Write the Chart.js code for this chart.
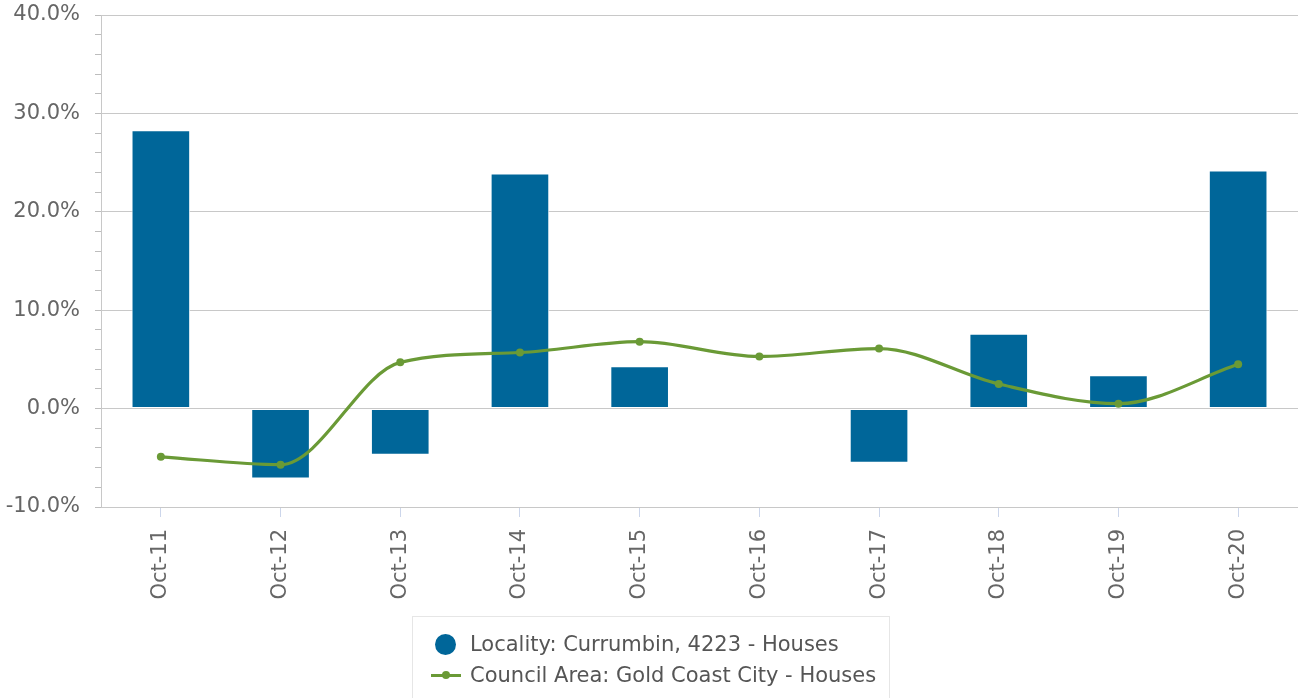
<!DOCTYPE html>
<html>
<head>
<meta charset="utf-8">
<script src="https://cdn.jsdelivr.net/npm/chart.js@4"></script>
<style>
  html, body { margin: 0; padding: 0; background: #fff; overflow: hidden; }
  #wrap { position: relative; width: 1298px; height: 698px; }
  #legend { position: absolute; left: 412px; top: 616px; width: 476px; height: 100px;
    border: 1px solid #e6e6e6; font-family: "DejaVu Sans", sans-serif; font-size: 21px; color: #555; }
  .item { position: absolute; left: 57px; white-space: nowrap; line-height: 24px; }
  .mk { position: absolute; }
</style>
</head>
<body>
<div id="wrap">
  <canvas id="c" width="1298" height="698"></canvas>
  <div id="legend"></div>
</div>
<script>
const categories = ["Oct-11","Oct-12","Oct-13","Oct-14","Oct-15","Oct-16","Oct-17","Oct-18","Oct-19","Oct-20"];
const localityValues = [28.3, -7.1, -4.7, 23.9, 4.3, 0.0, -5.5, 7.6, 3.4, 24.2];
const councilValues = [-4.9, -5.7, 4.7, 5.7, 6.8, 5.3, 6.1, 2.5, 0.5, 4.5];
const localityLabel = "Locality: Currumbin, 4223 - Houses";
const councilLabel = "Council Area: Gold Coast City - Houses";
const yMin = -10, yMax = 40, yMajor = 10, yMinor = 2;

const blue = "#006699";
const green = "#6a9a36";
const font = "DejaVu Sans";

const chart = new Chart(document.getElementById("c"), {
  data: {
    labels: categories,
    datasets: [
      { type: "line", label: councilLabel, data: councilValues, borderColor: green, backgroundColor: green,
        borderWidth: 3.2, cubicInterpolationMode: "monotone", pointRadius: 4, pointHoverRadius: 4, pointBorderWidth: 0, order: 0 },
      { type: "bar", label: localityLabel, data: localityValues, backgroundColor: blue, borderColor: "#ffffff",
        borderWidth: 1, borderSkipped: false, barPercentage: 0.49, categoryPercentage: 1.0, order: 1 }
    ]
  },
  options: {
    responsive: false,
    animation: false,
    layout: { autoPadding: false, padding: { top: 15, right: 0, left: 0, bottom: 0 } },
    plugins: { legend: { display: false }, tooltip: { enabled: false } },
    scales: {
      x: {
        offset: true,
        grid: { offset: false, drawOnChartArea: false, drawTicks: true, tickLength: 10, tickColor: "#ccd6eb", lineWidth: 1 },
        border: { display: true, color: "#c8c8c8", width: 1 },
        ticks: { color: "#666", font: { family: font, size: 21 }, minRotation: 90, maxRotation: 90, padding: 12, autoSkip: false },
        afterFit: (s) => { s.height = 191; s.paddingLeft = 0; s.paddingRight = 0; }
      },
      y: {
        min: yMin, max: yMax,
        grid: {
          color: (ctx) => (ctx.tick && Math.abs(ctx.tick.value % yMajor) < 1e-9) ? "#c8c8c8" : "rgba(0,0,0,0)",
          tickColor: "#bdbdbd", tickLength: 6, lineWidth: 1, drawTicks: true
        },
        border: { display: true, color: "#c8c8c8", width: 1 },
        ticks: {
          stepSize: yMinor, autoSkip: false, color: "#666", padding: 15,
          font: { family: font, size: 21 },
          callback: (v) => (Math.abs(v % yMajor) < 1e-9) ? v.toFixed(1) + "%" : ""
        },
        afterFit: (s) => { s.width = 101; s.paddingTop = 0; s.paddingBottom = 0; }
      }
    }
  }
});

// HTML legend built from dataset definitions
const legend = document.getElementById("legend");
const order = [1, 0];
order.forEach((di, i) => {
  const ds = chart.data.datasets[di];
  const top = 15 + i * 31;
  const item = document.createElement("div");
  item.className = "item";
  item.style.top = top + "px";
  item.textContent = ds.label;
  legend.appendChild(item);
  if (ds.type === "bar") {
    const m = document.createElement("div");
    m.className = "mk";
    m.style.cssText = `left:22px;top:${top + 2}px;width:21px;height:21px;border-radius:50%;background:${ds.backgroundColor};`;
    legend.appendChild(m);
  } else {
    const l = document.createElement("div");
    l.className = "mk";
    l.style.cssText = `left:18px;top:${top + 11}px;width:30px;height:3px;background:${ds.borderColor};`;
    legend.appendChild(l);
    const d = document.createElement("div");
    d.className = "mk";
    d.style.cssText = `left:29px;top:${top + 8}px;width:8px;height:8px;border-radius:50%;background:${ds.borderColor};`;
    legend.appendChild(d);
  }
});
</script>
</body>
</html>
